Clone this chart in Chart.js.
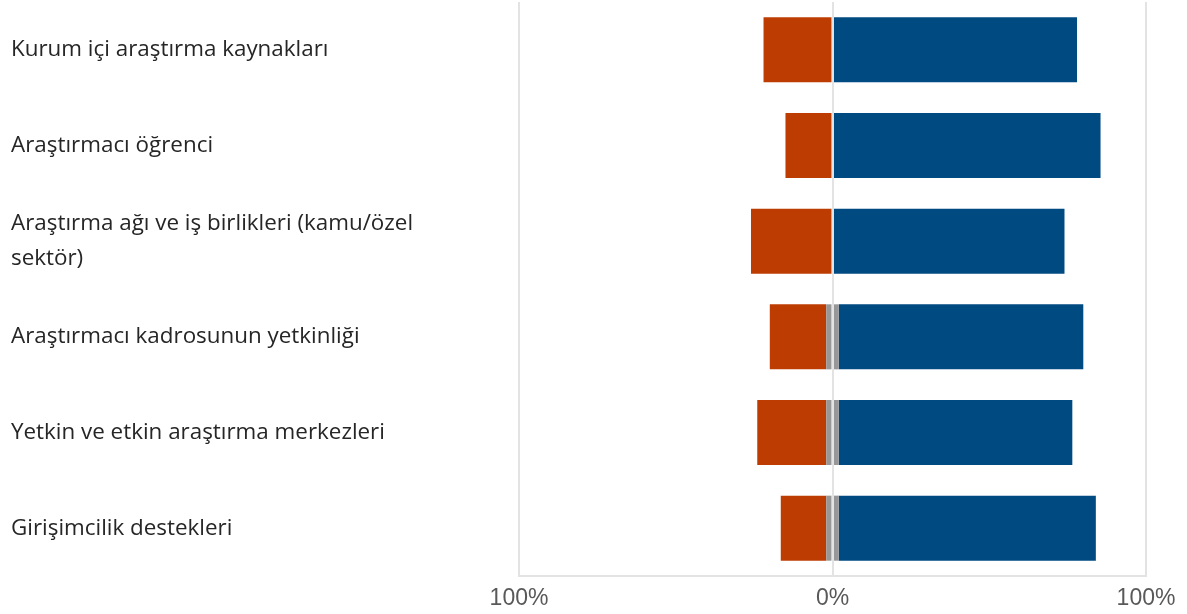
<!DOCTYPE html>
<html>
<head>
<meta charset="utf-8">
<script src="https://cdn.jsdelivr.net/npm/chart.js@4"></script>
<style>
  body { margin: 0; background: #fff; }
  #wrap { width: 1187px; height: 614px; position: relative; }
</style>
</head>
<body>
<div id="wrap"><canvas id="chart"></canvas></div>
<script>
// categories (top to bottom)
const categories = [
    'Kurum içi araştırma kaynakları',
    'Araştırmacı öğrenci',
    ['Araştırma ağı ve iş birlikleri (kamu/özel', 'sektör)'],
    'Araştırmacı kadrosunun yetkinliği',
    'Yetkin ve etkin araştırma merkezleri',
    'Girişimcilik destekleri'
];

// percentages
const negative = [22, 15, 26, 18, 22, 14.5];
const neutral = [0, 0, 0, 4, 4, 4];
const positive = [78, 85.5, 74, 78, 74.5, 82];

const tickValues = [-100, 0, 100];

const neutralHalfNeg = neutral.map(v => -v / 2);
const neutralHalfPos = neutral.map(v => v / 2);
const negativeVals = negative.map(v => -v);

const common = { barPercentage: 0.85, categoryPercentage: 0.8, borderWidth: 0 };

// bottom axis line under the plot
const bottomLine = {
    id: 'bottomLine',
    afterDatasetsDraw(chart) {
        const { ctx, chartArea } = chart;
        ctx.save();
        ctx.strokeStyle = '#e3e3e3';
        ctx.lineWidth = 2;
        ctx.beginPath();
        ctx.moveTo(chartArea.left - 1, chartArea.bottom);
        ctx.lineTo(chartArea.right + 1, chartArea.bottom);
        ctx.stroke();
        ctx.restore();
    }
};

const ctx = document.getElementById('chart').getContext('2d');
const chart = new Chart(ctx, {
    type: 'bar',
    data: {
        labels: categories,
        datasets: [
            { label: 'Nötr', data: neutralHalfNeg, backgroundColor: '#979797', ...common },
            { label: 'Olumsuz', data: negativeVals, backgroundColor: '#BC3C02', ...common },
            { label: 'Nötr ', data: neutralHalfPos, backgroundColor: '#979797', ...common },
            { label: 'Olumlu', data: positive, backgroundColor: '#004A82', ...common }
        ]
    },
    options: {
        indexAxis: 'y',
        responsive: true,
        maintainAspectRatio: false,
        animation: false,
        layout: { padding: { left: 11, right: 41, top: 2, bottom: 0 } },
        plugins: { legend: { display: false }, tooltip: { enabled: false } },
        scales: {
            x: {
                stacked: true,
                min: -100,
                max: 100,
                afterBuildTicks: axis => { axis.ticks = tickValues.map(v => ({ value: v })); },
                afterFit: axis => { axis.height = 38; },
                grid: { color: '#e3e3e3', lineWidth: 2, drawTicks: false, z: 1 },
                border: { display: false },
                ticks: {
                    padding: 9,
                    color: '#595959',
                    font: { family: 'Liberation Sans', size: 23 },
                    callback: v => Math.abs(v) + '%'
                }
            },
            y: {
                stacked: true,
                grid: { display: false, drawTicks: false },
                border: { display: false },
                afterFit: axis => {
                    axis.width = 508;
                    axis.paddingTop = 0;
                    axis.paddingBottom = 0;
                },
                ticks: {
                    crossAlign: 'far',
                    padding: 0,
                    color: '#262626',
                    font: { family: 'Open Sans', size: 22.4, lineHeight: 1.6 }
                }
            }
        }
    },
    plugins: [bottomLine]
});
</script>
</body>
</html>
